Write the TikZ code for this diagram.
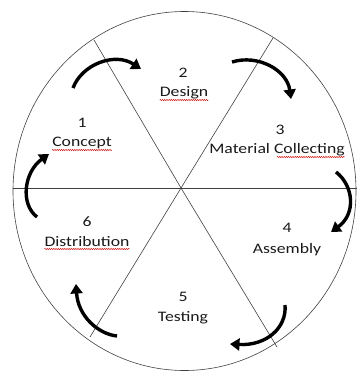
\documentclass[tikz,border=0pt]{standalone}
\usepackage{fontspec}
\setmainfont{Carlito}[FakeStretch=1.22]
\usetikzlibrary{arrows.meta,decorations.pathmorphing}
\tikzset{
  thin line/.style={draw=black!75, line width=0.6pt},
  cyclearrow/.style={line width=3.4pt, -{Triangle[width=12pt,length=9.5pt]}},
  lbl/.style={inner sep=0pt, font=\fontsize{14.5}{17}\selectfont, text=black!90},
  spell/.style={draw=red!80!black, line width=0.45pt, decorate,
    decoration={snake, segment length=2.2pt, amplitude=0.6pt}}
}
\begin{document}
\begin{tikzpicture}[x=1pt,y=-1pt]
\useasboundingbox (0,0) rectangle (357,372);
% circle and dividers
\coordinate (c) at (181,188);
\draw[thin line] (184.5,191) ellipse [x radius=171.5, y radius=179.5];
\coordinate (e1) at (94,40);
\coordinate (e2) at (273,38);
\coordinate (e3) at (357,188);
\coordinate (e4) at (277,347);
\coordinate (e5) at (90,337);
\coordinate (e6) at (13,188);
\draw[thin line] (e6) -- (e3);
\draw[thin line] (e1) -- (c) -- (e4);
\draw[thin line] (e2) -- (c) -- (e5);
% labels
\node[lbl] (n1) at (82,123) {1};
\node[lbl] (w1) at (82,143) {Concept};
\node[lbl] (n2) at (183,73) {2};
\node[lbl] (w2) at (184,93) {Design};
\node[lbl] (n3) at (280,130) {3};
\node[lbl] (w3) at (277,150) {Material Collecting};
\node[lbl] (n4) at (287,228) {4};
\node[lbl] (w4) at (287,250) {Assembly};
\node[lbl] (n5) at (183,297) {5};
\node[lbl] (w5) at (183,318) {Testing};
\node[lbl] (n6) at (87,222) {6};
\node[lbl] (w6) at (87,242) {Distribution};
% spell-check underlines
\draw[spell] ([yshift=-7pt]w1.west) -- ([yshift=-7pt]w1.east);
\draw[spell] ([yshift=-7pt]w2.west) -- ([yshift=-7pt]w2.east);
\draw[spell] ([xshift=-68pt,yshift=-7pt]w3.east) -- ([yshift=-7pt]w3.east);
\draw[spell] ([yshift=-7pt]w6.west) -- ([yshift=-7pt]w6.east);
% cycle arrows
\coordinate (a1s) at (73,88);   \coordinate (a1e) at (141,69);
\coordinate (a2s) at (232,62);  \coordinate (a2e) at (291,99);
\coordinate (a3s) at (336,172); \coordinate (a3e) at (331,232);
\coordinate (a4s) at (285,305); \coordinate (a4e) at (230,344);
\coordinate (a5s) at (117,336); \coordinate (a5e) at (76,284);
\coordinate (a6s) at (37,217);  \coordinate (a6e) at (49,154);
\draw[cyclearrow] (a1s) .. controls (82,64) and (115,52) .. (a1e);
\draw[cyclearrow] (a2s) .. controls (258,54) and (287,70) .. (a2e);
\draw[cyclearrow] (a3s) .. controls (354,186) and (356,214) .. (a3e);
\draw[cyclearrow] (a4s) .. controls (287,328) and (266,346) .. (a4e);
\draw[cyclearrow] (a5s) .. controls (98,334) and (78,316) .. (a5e);
\draw[cyclearrow] (a6s) .. controls (20,204) and (24,172) .. (a6e);
\end{tikzpicture}
\end{document}
